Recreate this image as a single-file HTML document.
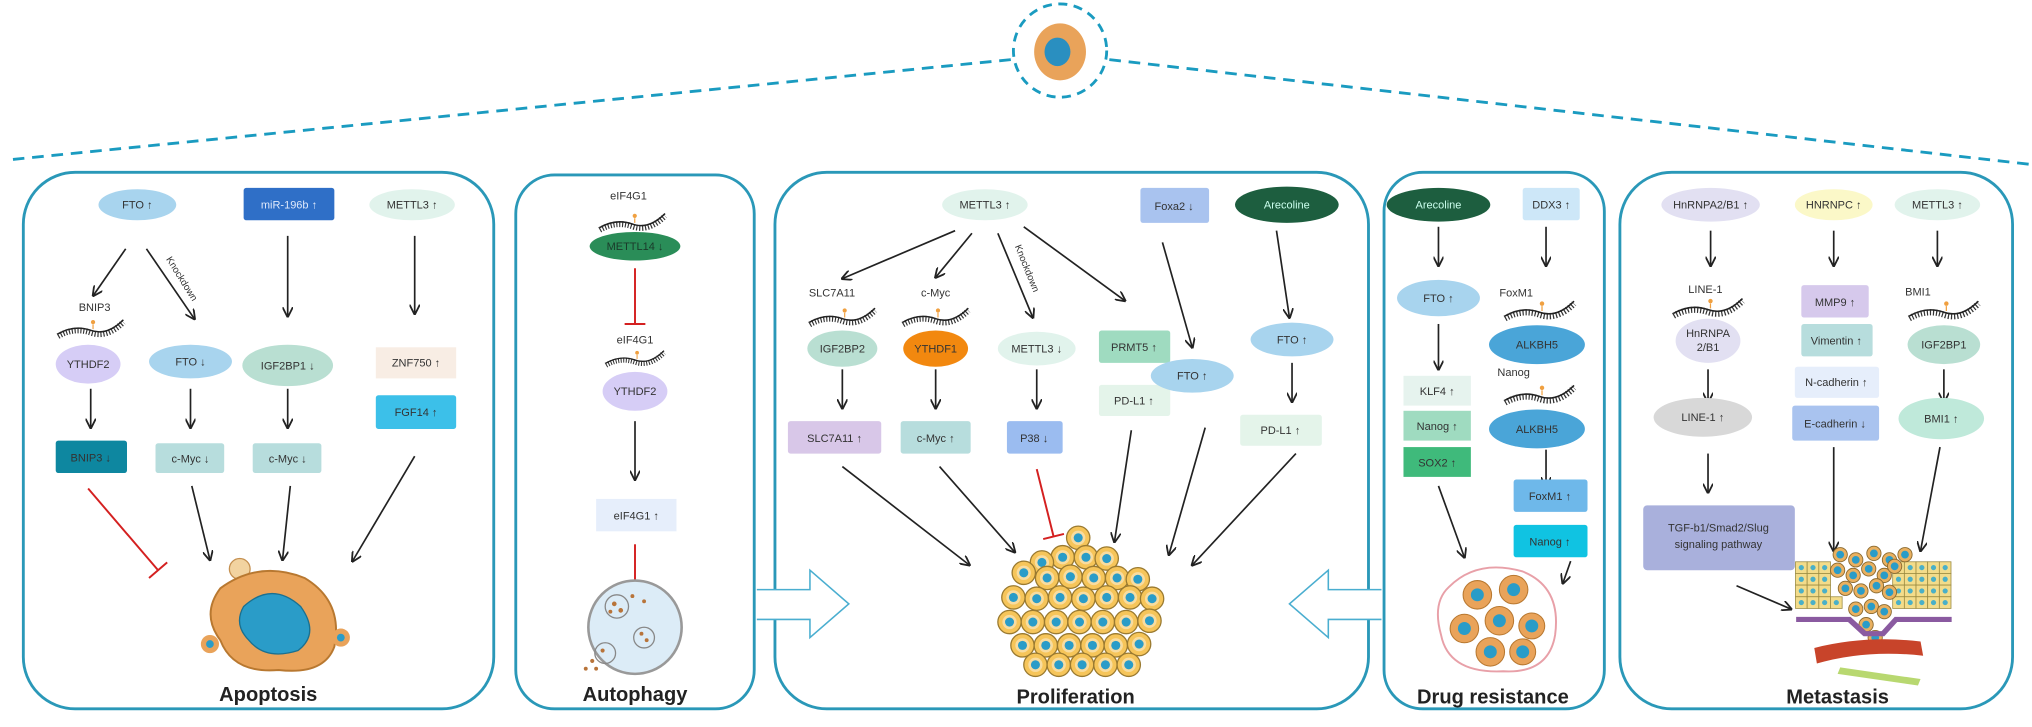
<!DOCTYPE html>
<html><head><meta charset="utf-8"><style>
html,body{margin:0;padding:0;background:#fff;width:2032px;height:727px;overflow:hidden}
svg{display:block}
text{font-family:"Liberation Sans",Arial,sans-serif;fill:#333}
.s{font-size:8.5px;text-anchor:middle}
.t{font-size:15.5px;font-weight:bold;text-anchor:middle;fill:#222}
.a{stroke:#222;stroke-width:1.3;fill:none;marker-end:url(#ah)}
.r{stroke:#d42020;stroke-width:1.5;fill:none}
.p{fill:none;stroke:#2a98b8;stroke-width:2.2}
</style></head><body>
<svg width="2032" height="727" viewBox="0 0 1568 561" preserveAspectRatio="none">
<defs>
<marker id="ah" markerWidth="8" markerHeight="8" refX="7" refY="4" orient="auto" markerUnits="userSpaceOnUse"><path d="M0,0 L8,4 L0,8" fill="none" stroke="#222" stroke-width="1.4"/></marker>
<g id="strand"><path d="M-28,6 Q-14,-2 0,3 T28,-6" fill="none" stroke="#333" stroke-width="5" stroke-dasharray="1 1.5"/><path d="M-28,4 Q-14,-4 0,1 T28,-8" fill="none" stroke="#222" stroke-width="1.3"/><circle cx="2" cy="-6" r="1.8" fill="#f0a040"/><line x1="2" y1="-4" x2="2" y2="0" stroke="#f0a040" stroke-width="1"/></g>
<g id="cell"><circle r="9" fill="#f6c55a" stroke="#9a7a30" stroke-width="1"/><circle r="5.5" fill="#f8dca0"/><circle r="3.5" fill="#2a9cc8"/></g>
<g id="sq"><rect x="-4.5" y="-4.5" width="9" height="9" fill="#f3dc8a" stroke="#9a8a40" stroke-width="0.6"/><circle r="2" fill="#4ab0c8"/></g>
<g id="mc"><circle r="5.5" fill="#e9b060" stroke="#8a6a30" stroke-width="0.7"/><circle r="3" fill="#2a9cc8"/></g>
</defs>

<!-- top -->
<line x1="780" y1="46" x2="10" y2="123" stroke="#1a9bc0" stroke-width="2.2" stroke-dasharray="9 6"/>
<line x1="856" y1="46" x2="1568" y2="127" stroke="#1a9bc0" stroke-width="2.2" stroke-dasharray="9 6"/>
<circle cx="818" cy="39" r="36" fill="#fff" stroke="#1a9bc0" stroke-width="2.2" stroke-dasharray="7 5"/>
<ellipse cx="818" cy="40" rx="20" ry="22" fill="#e9a35a"/><ellipse cx="816" cy="40" rx="10" ry="11" fill="#2a8fc0"/>

<!-- panels -->
<rect class="p" x="18" y="133" width="363" height="414" rx="40"/>
<rect class="p" x="398" y="135" width="184" height="412" rx="30"/>
<rect class="p" x="598" y="133" width="458" height="414" rx="40"/>
<rect class="p" x="1068" y="133" width="170" height="414" rx="30"/>
<rect class="p" x="1250" y="133" width="303" height="414" rx="40"/>

<!-- wide arrows -->
<path d="M584,455 H625 V440 L655,466 L625,492 V478 H584" fill="#fff" stroke="#4aaed0" stroke-width="1.2"/>
<path d="M1066,455 H1025 V440 L995,466 L1025,492 V478 H1066" fill="#fff" stroke="#4aaed0" stroke-width="1.2"/>

<!-- ===== Apoptosis ===== -->
<ellipse cx="106" cy="158" rx="30" ry="12" fill="#a8d4ee"/><text class="s" x="106" y="161">FTO ↑</text>
<rect x="188" y="145" width="70" height="25" rx="2" fill="#2f6fc7"/><text class="s" x="223" y="161" style="fill:#dfe9fb">miR-196b ↑</text>
<ellipse cx="318" cy="158" rx="33" ry="12" fill="#e1f3ec"/><text class="s" x="318" y="161">METTL3 ↑</text>
<line class="a" x1="97" y1="192" x2="72" y2="228"/>
<line class="a" x1="113" y1="192" x2="150" y2="246"/>
<text x="128" y="200" font-size="7.5" transform="rotate(58 128 200)">Knockdown</text>
<line class="a" x1="222" y1="182" x2="222" y2="244"/>
<line class="a" x1="320" y1="182" x2="320" y2="242"/>
<text class="s" x="73" y="240">BNIP3</text>
<use href="#strand" transform="translate(70,254) scale(0.9)"/>
<ellipse cx="68" cy="281" rx="25" ry="15" fill="#d6cdf6"/><text class="s" x="68" y="284">YTHDF2</text>
<ellipse cx="147" cy="279" rx="32" ry="13" fill="#a8d4ee"/><text class="s" x="147" y="282">FTO ↓</text>
<ellipse cx="222" cy="282" rx="35" ry="16" fill="#b9dfd2"/><text class="s" x="222" y="285">IGF2BP1 ↓</text>
<rect x="290" y="268" width="62" height="24" fill="#f8ede4"/><text class="s" x="321" y="283">ZNF750 ↑</text>
<rect x="290" y="305" width="62" height="26" rx="2" fill="#3cc0e9"/><text class="s" x="321" y="321">FGF14 ↑</text>
<line class="a" x1="70" y1="300" x2="70" y2="330"/>
<line class="a" x1="147" y1="300" x2="147" y2="330"/>
<line class="a" x1="222" y1="300" x2="222" y2="330"/>
<rect x="43" y="340" width="55" height="25" rx="2" fill="#0e87a0"/><text class="s" x="70" y="356">BNIP3 ↓</text>
<rect x="120" y="342" width="53" height="23" rx="2" fill="#b7dddd"/><text class="s" x="147" y="357">c-Myc ↓</text>
<rect x="195" y="342" width="53" height="23" rx="2" fill="#b7dddd"/><text class="s" x="222" y="357">c-Myc ↓</text>
<line class="r" x1="68" y1="377" x2="122" y2="440"/><line class="r" x1="115" y1="446" x2="129" y2="434"/>
<line class="a" x1="148" y1="375" x2="162" y2="432"/>
<line class="a" x1="224" y1="375" x2="218" y2="432"/>
<line class="a" x1="320" y1="352" x2="272" y2="433"/>
<g transform="translate(0,-16)">
<circle cx="185" cy="455" r="8" fill="#f2d3a0" stroke="#c59050"/>
<path d="M170,470 Q200,448 235,462 Q265,480 258,515 Q250,537 215,533 Q180,536 170,510 Q155,490 170,470Z" fill="#e9a35a" stroke="#b87830" stroke-width="1.5"/>
<path d="M188,484 Q210,464 232,484 Q247,505 230,518 Q205,526 192,510 Q180,498 188,484Z" fill="#2a9cc8" stroke="#1a7090"/>
<circle cx="162" cy="513" r="7" fill="#e9a35a"/><circle cx="162" cy="513" r="3" fill="#2a9cc8"/>
<circle cx="263" cy="508" r="7" fill="#e9a35a"/><circle cx="263" cy="508" r="3" fill="#2a9cc8"/>
</g>
<text class="t" x="207" y="541">Apoptosis</text>

<!-- ===== Autophagy ===== -->
<text class="s" x="485" y="154">eIF4G1</text>
<use href="#strand" transform="translate(488,172) scale(0.9)"/>
<ellipse cx="490" cy="190" rx="35" ry="11" fill="#2a8d58"/><text class="s" x="490" y="193" style="fill:#1a3a2a">METTL14 ↓</text>
<line class="r" x1="490" y1="207" x2="490" y2="250"/><line class="r" x1="482" y1="250" x2="498" y2="250"/>
<text class="s" x="490" y="265">eIF4G1</text>
<use href="#strand" transform="translate(490,277) scale(0.8)"/>
<ellipse cx="490" cy="302" rx="25" ry="15" fill="#d6cdf6"/><text class="s" x="490" y="305">YTHDF2</text>
<line class="a" x1="490" y1="325" x2="490" y2="370"/>
<rect x="460" y="385" width="62" height="25" fill="#e6eefb"/><text class="s" x="491" y="401">eIF4G1 ↑</text>
<line class="r" x1="490" y1="420" x2="490" y2="462"/><line class="r" x1="482" y1="462" x2="498" y2="462"/>
<g transform="translate(0,-16)">
<circle cx="490" cy="500" r="36" fill="#dcecf7" stroke="#999" stroke-width="2"/>
<circle cx="476" cy="484" r="9" fill="none" stroke="#888"/><circle cx="497" cy="508" r="8" fill="none" stroke="#888"/><circle cx="467" cy="520" r="8" fill="none" stroke="#888"/>
<g fill="#b8743a"><circle cx="474" cy="482" r="1.8"/><circle cx="479" cy="487" r="1.8"/><circle cx="471" cy="488" r="1.5"/><circle cx="495" cy="505" r="1.5"/><circle cx="499" cy="510" r="1.5"/><circle cx="465" cy="518" r="1.6"/><circle cx="457" cy="526" r="1.6"/><circle cx="452" cy="532" r="1.5"/><circle cx="460" cy="532" r="1.5"/><circle cx="488" cy="476" r="1.5"/><circle cx="497" cy="480" r="1.5"/></g>
</g>
<text class="t" x="490" y="541">Autophagy</text>

<!-- ===== Proliferation ===== -->
<ellipse cx="760" cy="158" rx="33" ry="12" fill="#e1f3ec"/><text class="s" x="760" y="161">METTL3 ↑</text>
<rect x="880" y="145" width="53" height="27" rx="2" fill="#a9c3ef"/><text class="s" x="906" y="162">Foxa2 ↓</text>
<ellipse cx="993" cy="158" rx="40" ry="14" fill="#1d5e3f"/><text class="s" x="993" y="161" style="fill:#cfe">Arecoline</text>
<line class="a" x1="737" y1="178" x2="650" y2="215"/>
<line class="a" x1="750" y1="180" x2="722" y2="214"/>
<line class="a" x1="770" y1="180" x2="797" y2="245"/>
<text x="783" y="190" font-size="7.5" transform="rotate(68 783 190)">Knockdown</text>
<line class="a" x1="790" y1="175" x2="868" y2="232"/>
<line class="a" x1="897" y1="187" x2="920" y2="268"/>
<line class="a" x1="985" y1="178" x2="995" y2="245"/>
<text class="s" x="642" y="229">SLC7A11</text>
<use href="#strand" transform="translate(650,245) scale(0.9)"/>
<ellipse cx="650" cy="269" rx="27" ry="14" fill="#b9dfd2"/><text class="s" x="650" y="272">IGF2BP2</text>
<text class="s" x="722" y="229">c-Myc</text>
<use href="#strand" transform="translate(722,245) scale(0.9)"/>
<ellipse cx="722" cy="269" rx="25" ry="14" fill="#f2880f"/><text class="s" x="722" y="272">YTHDF1</text>
<ellipse cx="800" cy="269" rx="30" ry="13" fill="#e1f3ec"/><text class="s" x="800" y="272">METTL3 ↓</text>
<rect x="848" y="255" width="55" height="25" rx="2" fill="#9fdbc0"/><text class="s" x="875" y="271">PRMT5 ↑</text>
<rect x="848" y="297" width="55" height="24" rx="2" fill="#e4f4ea"/><text class="s" x="875" y="312">PD-L1 ↑</text>
<ellipse cx="920" cy="290" rx="32" ry="13" fill="#a8d4ee"/><text class="s" x="920" y="293">FTO ↑</text>
<ellipse cx="997" cy="262" rx="32" ry="13" fill="#a8d4ee"/><text class="s" x="997" y="265">FTO ↑</text>
<line class="a" x1="650" y1="285" x2="650" y2="315"/>
<line class="a" x1="722" y1="285" x2="722" y2="315"/>
<line class="a" x1="800" y1="285" x2="800" y2="315"/>
<line class="a" x1="997" y1="280" x2="997" y2="310"/>
<rect x="608" y="325" width="72" height="25" rx="2" fill="#d8c7e8"/><text class="s" x="644" y="341">SLC7A11 ↑</text>
<rect x="695" y="325" width="54" height="25" rx="2" fill="#b7dddd"/><text class="s" x="722" y="341">c-Myc ↑</text>
<rect x="777" y="325" width="43" height="25" rx="2" fill="#9bbcf0"/><text class="s" x="798" y="341">P38 ↓</text>
<rect x="957" y="320" width="63" height="24" rx="2" fill="#e4f4ea"/><text class="s" x="988" y="335">PD-L1 ↑</text>
<line class="a" x1="650" y1="360" x2="748" y2="436"/>
<line class="a" x1="725" y1="360" x2="783" y2="426"/>
<line class="r" x1="800" y1="362" x2="813" y2="414"/><line class="r" x1="805" y1="416" x2="821" y2="412"/>
<line class="a" x1="873" y1="332" x2="860" y2="418"/>
<line class="a" x1="930" y1="330" x2="902" y2="428"/>
<line class="a" x1="1000" y1="350" x2="920" y2="436"/>
<g transform="translate(0,-10)">
<use href="#cell" x="832" y="425"/>
<use href="#cell" x="820" y="440"/><use href="#cell" x="838" y="440"/><use href="#cell" x="854" y="441"/><use href="#cell" x="804" y="444"/>
<use href="#cell" x="790" y="452"/><use href="#cell" x="808" y="456"/><use href="#cell" x="826" y="455"/><use href="#cell" x="844" y="456"/><use href="#cell" x="862" y="456"/><use href="#cell" x="878" y="457"/>
<use href="#cell" x="782" y="471"/><use href="#cell" x="800" y="472"/><use href="#cell" x="818" y="471"/><use href="#cell" x="836" y="472"/><use href="#cell" x="854" y="471"/><use href="#cell" x="872" y="471"/><use href="#cell" x="889" y="472"/>
<use href="#cell" x="779" y="490"/><use href="#cell" x="797" y="490"/><use href="#cell" x="815" y="490"/><use href="#cell" x="833" y="490"/><use href="#cell" x="851" y="490"/><use href="#cell" x="869" y="490"/><use href="#cell" x="887" y="489"/>
<use href="#cell" x="789" y="508"/><use href="#cell" x="807" y="508"/><use href="#cell" x="825" y="508"/><use href="#cell" x="843" y="508"/><use href="#cell" x="861" y="508"/><use href="#cell" x="879" y="507"/>
<use href="#cell" x="799" y="523"/><use href="#cell" x="817" y="523"/><use href="#cell" x="835" y="523"/><use href="#cell" x="853" y="523"/><use href="#cell" x="871" y="523"/>
</g>
<text class="t" x="830" y="543">Proliferation</text>

<!-- ===== Drug resistance ===== -->
<ellipse cx="1110" cy="158" rx="40" ry="13" fill="#1d5e3f"/><text class="s" x="1110" y="161" style="fill:#cfe">Arecoline</text>
<rect x="1175" y="145" width="44" height="25" rx="2" fill="#cde7f8"/><text class="s" x="1197" y="161">DDX3 ↑</text>
<line class="a" x1="1110" y1="175" x2="1110" y2="205"/>
<line class="a" x1="1193" y1="175" x2="1193" y2="205"/>
<ellipse cx="1110" cy="230" rx="32" ry="14" fill="#a8d4ee"/><text class="s" x="1110" y="233">FTO ↑</text>
<text class="s" x="1170" y="229">FoxM1</text>
<use href="#strand" transform="translate(1188,240) scale(0.95)"/>
<ellipse cx="1186" cy="266" rx="37" ry="15" fill="#4aa5d8"/><text class="s" x="1186" y="269">ALKBH5</text>
<text class="s" x="1168" y="290">Nanog</text>
<use href="#strand" transform="translate(1188,305) scale(0.95)"/>
<ellipse cx="1186" cy="331" rx="37" ry="15" fill="#4aa5d8"/><text class="s" x="1186" y="334">ALKBH5</text>
<line class="a" x1="1110" y1="250" x2="1110" y2="285"/>
<line class="a" x1="1193" y1="347" x2="1193" y2="375"/>
<rect x="1083" y="290" width="52" height="23" fill="#e6f3ee"/><text class="s" x="1109" y="305">KLF4 ↑</text>
<rect x="1083" y="317" width="52" height="23" fill="#9fdbc0"/><text class="s" x="1109" y="332">Nanog ↑</text>
<rect x="1083" y="345" width="52" height="23" fill="#3fba7b"/><text class="s" x="1109" y="360">SOX2 ↑</text>
<rect x="1168" y="370" width="57" height="25" rx="2" fill="#6eb8ea"/><text class="s" x="1196" y="386">FoxM1 ↑</text>
<rect x="1168" y="405" width="57" height="25" rx="2" fill="#10c3e2"/><text class="s" x="1196" y="421">Nanog ↑</text>
<line class="a" x1="1110" y1="375" x2="1130" y2="430"/>
<line class="a" x1="1212" y1="433" x2="1206" y2="450"/>
<g transform="translate(0,-5)">
<path d="M1118,458 Q1140,436 1175,446 Q1205,458 1200,495 Q1195,525 1160,523 Q1118,525 1112,495 Q1105,470 1118,458Z" fill="#fff" stroke="#e8a0a8" stroke-width="1.5"/>
<g fill="#e9a35a" stroke="#b87830" stroke-width="0.8"><circle cx="1140" cy="464" r="11"/><circle cx="1168" cy="460" r="11"/><circle cx="1130" cy="490" r="11"/><circle cx="1157" cy="484" r="11"/><circle cx="1182" cy="488" r="10"/><circle cx="1150" cy="508" r="11"/><circle cx="1175" cy="508" r="10"/></g>
<g fill="#2a9cc8"><circle cx="1140" cy="464" r="5"/><circle cx="1168" cy="460" r="5"/><circle cx="1130" cy="490" r="5"/><circle cx="1157" cy="484" r="5"/><circle cx="1182" cy="488" r="5"/><circle cx="1150" cy="508" r="5"/><circle cx="1175" cy="508" r="5"/></g>
</g>
<text class="t" x="1152" y="543">Drug resistance</text>

<!-- ===== Metastasis ===== -->
<ellipse cx="1320" cy="158" rx="38" ry="13" fill="#e2e0f2"/><text class="s" x="1320" y="161">HnRNPA2/B1 ↑</text>
<ellipse cx="1415" cy="158" rx="30" ry="12" fill="#fbf8c8"/><text class="s" x="1415" y="161">HNRNPC ↑</text>
<ellipse cx="1495" cy="158" rx="33" ry="12" fill="#e1f3ec"/><text class="s" x="1495" y="161">METTL3 ↑</text>
<line class="a" x1="1320" y1="178" x2="1320" y2="205"/>
<line class="a" x1="1415" y1="178" x2="1415" y2="205"/>
<line class="a" x1="1495" y1="178" x2="1495" y2="205"/>
<text class="s" x="1316" y="226">LINE-1</text>
<use href="#strand" transform="translate(1318,238) scale(0.95)"/>
<ellipse cx="1318" cy="263" rx="25" ry="17" fill="#e2e0f2"/><text class="s" x="1318" y="260">HnRNPA</text><text class="s" x="1318" y="271">2/B1</text>
<rect x="1390" y="220" width="52" height="25" rx="2" fill="#d6c9ec"/><text class="s" x="1416" y="236">MMP9 ↑</text>
<rect x="1390" y="250" width="55" height="25" rx="2" fill="#b7dddd"/><text class="s" x="1417" y="266">Vimentin ↑</text>
<rect x="1385" y="283" width="65" height="24" rx="2" fill="#e6eefb"/><text class="s" x="1417" y="298">N-cadherin ↑</text>
<rect x="1383" y="313" width="67" height="27" rx="2" fill="#a9c3ef"/><text class="s" x="1416" y="330">E-cadherin ↓</text>
<text class="s" x="1480" y="228">BMI1</text>
<use href="#strand" transform="translate(1500,240) scale(0.95)"/>
<ellipse cx="1500" cy="266" rx="28" ry="15" fill="#b9dfd2"/><text class="s" x="1500" y="269">IGF2BP1</text>
<line class="a" x1="1318" y1="285" x2="1318" y2="310"/>
<line class="a" x1="1500" y1="285" x2="1500" y2="310"/>
<ellipse cx="1314" cy="322" rx="38" ry="15" fill="#d8d8d8"/><text class="s" x="1314" y="325">LINE-1 ↑</text>
<ellipse cx="1498" cy="323" rx="33" ry="16" fill="#bfe9da"/><text class="s" x="1498" y="326">BMI1 ↑</text>
<line class="a" x1="1318" y1="350" x2="1318" y2="380"/>
<line class="a" x1="1415" y1="345" x2="1415" y2="425"/>
<line class="a" x1="1497" y1="345" x2="1482" y2="425"/>
<rect x="1268" y="390" width="117" height="50" rx="3" fill="#a9b0dc"/><text class="s" x="1326" y="410">TGF-b1/Smad2/Slug</text><text class="s" x="1326" y="423">signaling pathway</text>
<line class="a" x1="1340" y1="452" x2="1382" y2="470"/>
<g transform="translate(0,-8)">
<g>
<use href="#sq" x="1390" y="446"/><use href="#sq" x="1399" y="446"/><use href="#sq" x="1408" y="446"/><use href="#sq" x="1465" y="446"/><use href="#sq" x="1474" y="446"/><use href="#sq" x="1483" y="446"/><use href="#sq" x="1492" y="446"/><use href="#sq" x="1501" y="446"/>
<use href="#sq" x="1390" y="455"/><use href="#sq" x="1399" y="455"/><use href="#sq" x="1408" y="455"/><use href="#sq" x="1465" y="455"/><use href="#sq" x="1474" y="455"/><use href="#sq" x="1483" y="455"/><use href="#sq" x="1492" y="455"/><use href="#sq" x="1501" y="455"/>
<use href="#sq" x="1390" y="464"/><use href="#sq" x="1399" y="464"/><use href="#sq" x="1408" y="464"/><use href="#sq" x="1465" y="464"/><use href="#sq" x="1474" y="464"/><use href="#sq" x="1483" y="464"/><use href="#sq" x="1492" y="464"/><use href="#sq" x="1501" y="464"/>
<use href="#sq" x="1390" y="473"/><use href="#sq" x="1399" y="473"/><use href="#sq" x="1408" y="473"/><use href="#sq" x="1417" y="473"/><use href="#sq" x="1465" y="473"/><use href="#sq" x="1474" y="473"/><use href="#sq" x="1483" y="473"/><use href="#sq" x="1492" y="473"/><use href="#sq" x="1501" y="473"/>
</g>
<g>
<use href="#mc" x="1420" y="436"/><use href="#mc" x="1432" y="440"/><use href="#mc" x="1446" y="435"/><use href="#mc" x="1458" y="440"/><use href="#mc" x="1470" y="436"/>
<use href="#mc" x="1418" y="448"/><use href="#mc" x="1430" y="452"/><use href="#mc" x="1442" y="447"/><use href="#mc" x="1454" y="452"/><use href="#mc" x="1462" y="445"/>
<use href="#mc" x="1424" y="462"/><use href="#mc" x="1436" y="464"/><use href="#mc" x="1448" y="460"/><use href="#mc" x="1458" y="465"/>
<use href="#mc" x="1432" y="478"/><use href="#mc" x="1444" y="476"/><use href="#mc" x="1454" y="480"/>
<use href="#mc" x="1440" y="490"/><use href="#mc" x="1447" y="500"/>
</g>
<path d="M1386,484 H1428 L1440,495 H1452 L1462,484 H1506 V488 H1464 L1454,499 H1438 L1426,488 H1386Z" fill="#8a5aa0"/>
<path d="M1400,508 Q1440,498 1482,503 L1484,514 Q1440,509 1402,520Z" fill="#c8442a"/>
<path d="M1420,523 L1482,532 L1480,537 L1418,528Z" fill="#b8d870"/>
</g>
<text class="t" x="1418" y="543">Metastasis</text>
</svg>
</body></html>
